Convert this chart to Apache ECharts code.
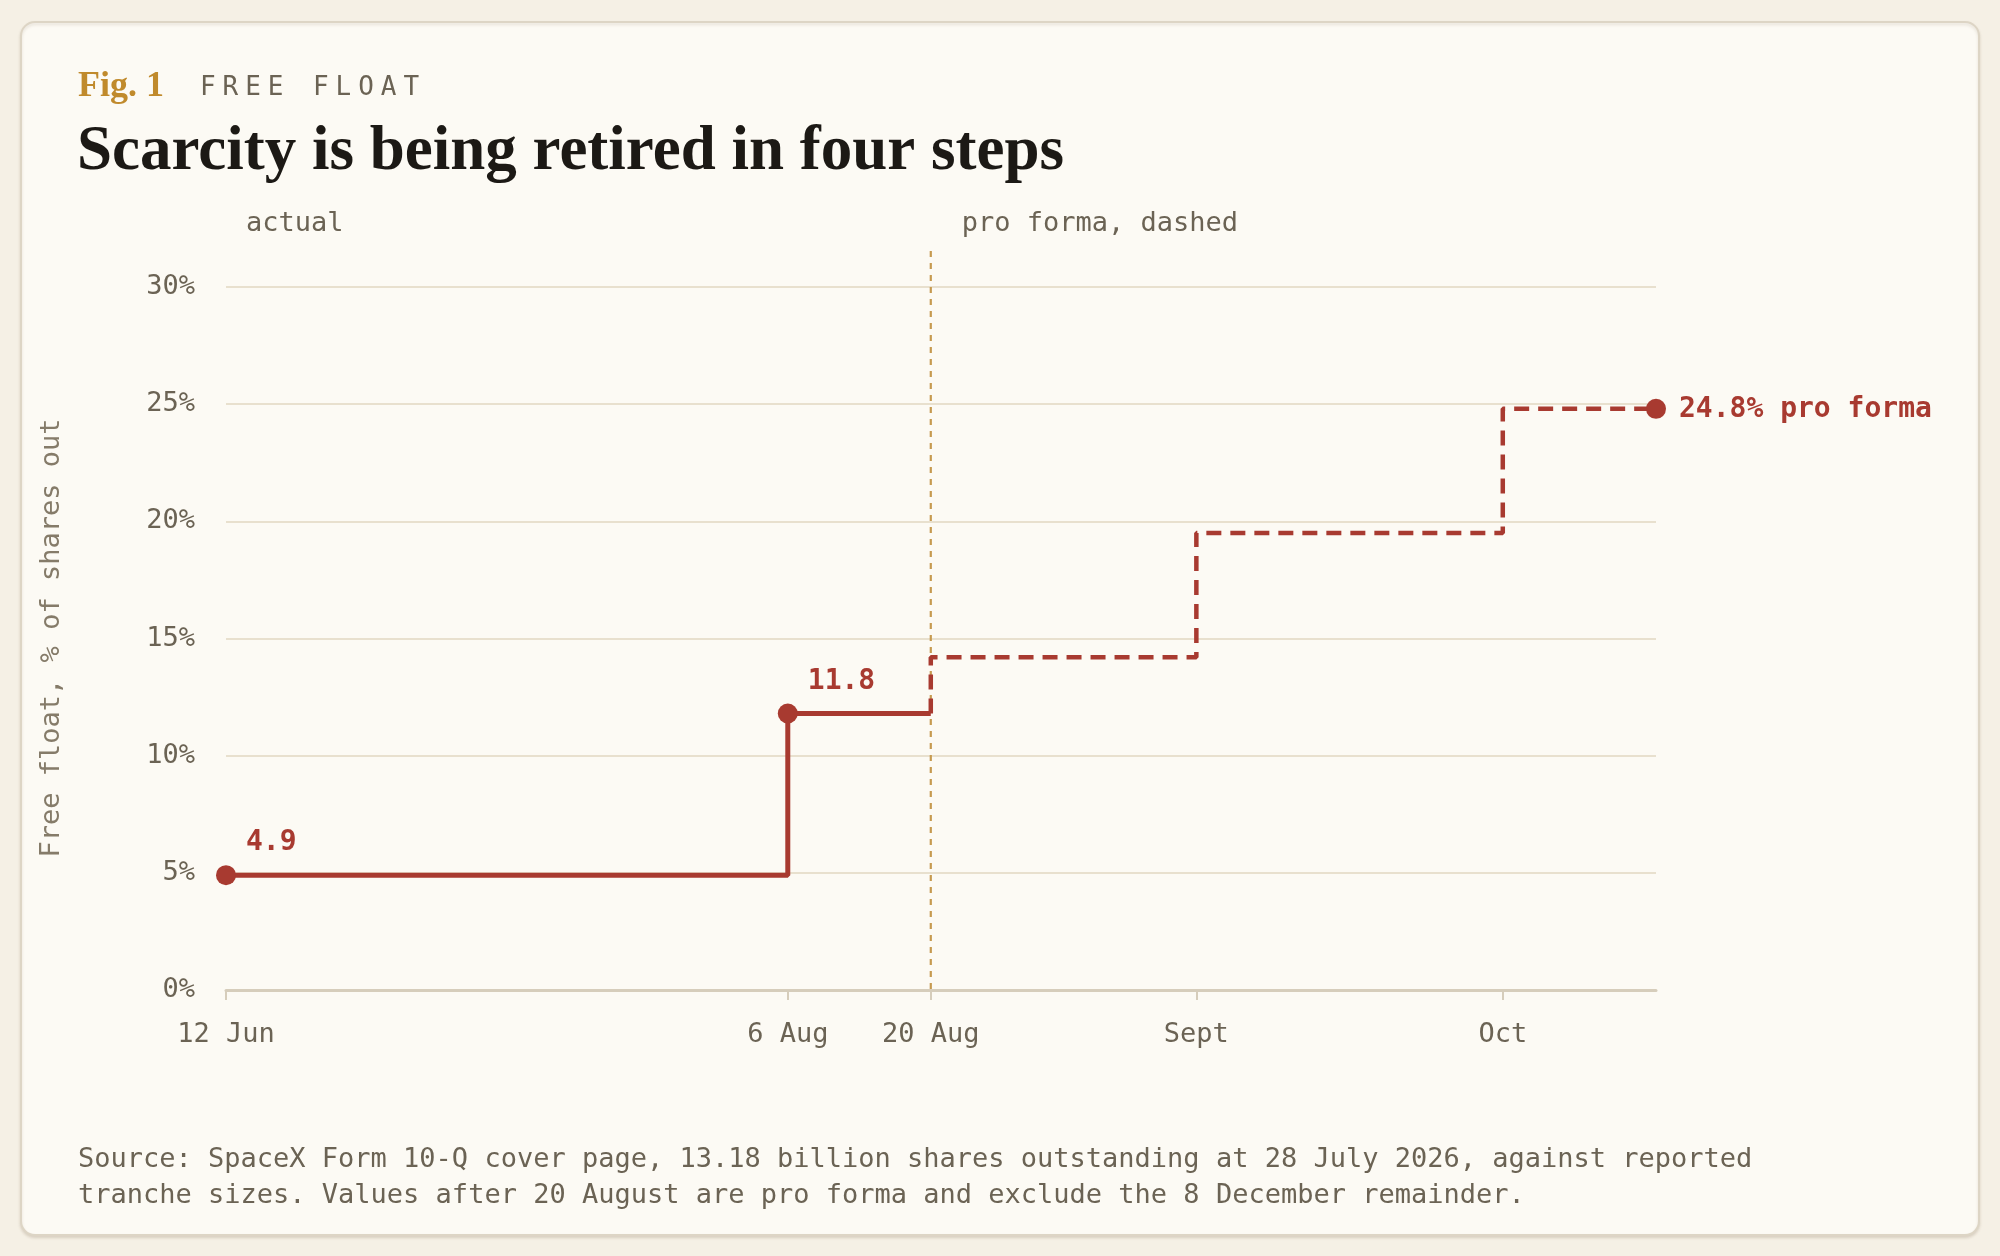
<!DOCTYPE html>
<html><head><meta charset="utf-8">
<script src="https://cdn.jsdelivr.net/npm/echarts@6/dist/echarts.min.js"></script>
<style>html,body{margin:0;padding:0;background:#f5f0e5;}#c{width:2000px;height:1256px;}</style>
</head><body><div id="c"></div>
<script>
// ---- data ----
const actualDates = ['2026-06-12', '2026-08-06', '2026-08-20'];
const actualValues = [4.9, 11.8, 11.8];
const proFormaDates = ['2026-08-20', '2026-08-20', '2026-09-15', '2026-10-15', '2026-10-30'];
const proFormaValues = [11.8, 14.2, 19.5, 24.8, 24.8];
const xTickDates = ['2026-06-12', '2026-08-06', '2026-08-20', '2026-09-15', '2026-10-15'];
const xTickLabels = ['12 Jun', '6 Aug', '20 Aug', 'Sept', 'Oct'];
const yTicks = [0, 5, 10, 15, 20, 25, 30];
const dividerDate = '2026-08-20';

const RED = '#a83a30';
const GRAY = '#6b6354';
const MONO = '"DejaVu Sans Mono", "Liberation Mono", monospace';
const SERIF = '"Liberation Serif", "DejaVu Serif", serif';

const ts = d => new Date(d + 'T00:00:00Z').getTime();
const tickTs = xTickDates.map(ts);

const actualData = actualDates.map((d, i) => {
  const item = { value: [ts(d), actualValues[i]] };
  if (i < 2) {
    item.label = { show: true, formatter: String(actualValues[i]) };
  } else {
    item.symbol = 'none';
  }
  return item;
});
const proData = proFormaDates.map((d, i) => {
  const last = i === proFormaDates.length - 1;
  const item = { value: [ts(d), proFormaValues[i]] };
  if (last) {
    item.label = { show: true, formatter: proFormaValues[i] + '% pro forma' };
  } else {
    item.symbol = 'none';
  }
  return item;
});

const chart = echarts.init(document.getElementById('c'), null, { renderer: 'canvas' });

const option = {
  backgroundColor: '#f5f0e5',
  animation: false,
  grid: { left: 226, right: 344, top: 287, bottom: 266 },
  xAxis: {
    type: 'value',
    min: ts('2026-06-12'),
    max: ts('2026-10-30'),
    axisLine: { show: true, lineStyle: { color: '#d6cdbb', width: 3 } },
    axisTick: { show: true, customValues: tickTs, length: 10, lineStyle: { color: '#d6cdbb', width: 2 } },
    axisLabel: {
      customValues: tickTs,
      color: GRAY, fontFamily: MONO, fontSize: 27, margin: 31,
      formatter: v => { const i = tickTs.indexOf(v); return i >= 0 ? xTickLabels[i] : ''; }
    },
    splitLine: { show: false }
  },
  yAxis: {
    type: 'value',
    min: yTicks[0], max: yTicks[yTicks.length - 1], interval: 5,
    axisLine: { show: false }, axisTick: { show: false },
    axisLabel: { color: GRAY, fontFamily: MONO, fontSize: 27, margin: 31, padding: [8, 0, 0, 0], formatter: v => v + '%' },
    splitLine: { show: true, lineStyle: { color: '#e8e0ce', width: 2 } }
  },
  series: [
    {
      name: 'actual', type: 'line', step: 'end', data: actualData,
      symbol: 'circle', symbolSize: 20,
      lineStyle: { color: RED, width: 5 },
      itemStyle: { color: RED },
      label: { position: 'right', distance: 10, offset: [0, -32], color: RED, fontFamily: MONO, fontWeight: 'bold', fontSize: 28 },
      z: 3
    },
    {
      name: 'pro forma', type: 'line', step: 'end', data: proData,
      symbol: 'circle', symbolSize: 20,
      lineStyle: { color: RED, width: 4.5, type: [15, 9] },
      itemStyle: { color: RED },
      label: { position: 'right', distance: 13, offset: [0, 1], color: RED, fontFamily: MONO, fontWeight: 'bold', fontSize: 28 },
      z: 3
    }
  ]
};
chart.setOption(option);

const divX = chart.convertToPixel({ gridIndex: 0 }, [ts(dividerDate), 0])[0];
const y0 = chart.convertToPixel({ gridIndex: 0 }, [ts(dividerDate), 0])[1];
const leftX = chart.convertToPixel({ gridIndex: 0 }, [ts(actualDates[0]), 0])[0];

const kicker = 'FREE FLOAT';
const kickerEls = kicker.split('').map((ch, i) => ({
  type: 'text', x: 200 + i * 22.6, y: 101,
  style: { text: ch, fill: GRAY, font: '26px ' + MONO, verticalAlign: 'bottom' }
}));

chart.setOption({
  graphic: [
    { type: 'rect', z: -10, silent: true, shape: { x: 21, y: 22, width: 1958, height: 1213, r: 14 },
      style: { fill: '#fcfaf4', stroke: '#ddd5c5', lineWidth: 2, shadowColor: 'rgba(120,100,70,0.18)', shadowBlur: 3, shadowOffsetY: 2 } },
    { type: 'text', x: 78, y: 105, style: { text: 'Fig. 1', fill: '#c08a2c', font: 'bold 36px ' + SERIF, verticalAlign: 'bottom' } },
    { type: 'group', children: kickerEls },
    { type: 'text', x: 77, y: 184, style: { text: 'Scarcity is being retired in four steps', fill: '#1c1915', font: 'bold 63px ' + SERIF, verticalAlign: 'bottom' } },
    { type: 'text', x: leftX + 20, y: 224, style: { text: 'actual', fill: GRAY, font: '27px ' + MONO, verticalAlign: 'middle' } },
    { type: 'text', x: divX + 31, y: 224, style: { text: 'pro forma, dashed', fill: GRAY, font: '27px ' + MONO, verticalAlign: 'middle' } },
    { type: 'line', z: 1, shape: { x1: divX, y1: 251, x2: divX, y2: y0 }, style: { stroke: '#c69a50', lineWidth: 2.2, lineDash: [6, 6] } },
    { type: 'text', x: 52, y: 638, rotation: Math.PI / 2,
      style: { text: 'Free float, % of shares out', fill: '#857b69', font: '27px ' + MONO, align: 'center', verticalAlign: 'middle' } },
    { type: 'text', x: 78, y: 1160, style: { text: 'Source: SpaceX Form 10-Q cover page, 13.18 billion shares outstanding at 28 July 2026, against reported', fill: GRAY, font: '27px ' + MONO, verticalAlign: 'middle' } },
    { type: 'text', x: 78, y: 1196, style: { text: 'tranche sizes. Values after 20 August are pro forma and exclude the 8 December remainder.', fill: GRAY, font: '27px ' + MONO, verticalAlign: 'middle' } }
  ]
});
</script></body></html>
